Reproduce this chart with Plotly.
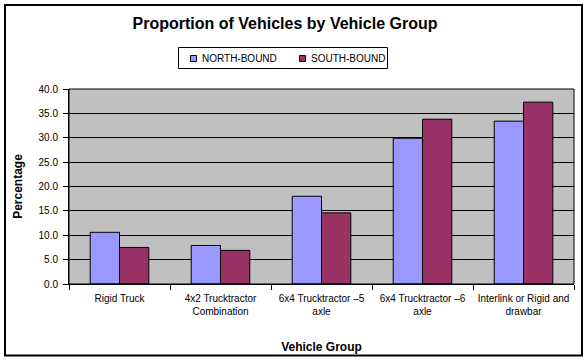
import plotly.graph_objects as go

categories = ["Rigid Truck", "4x2 Trucktractor<br>Combination", "6x4 Trucktractor –5<br>axle",
              "6x4 Trucktractor –6<br>axle", "Interlink or Rigid and<br>drawbar"]
north_bound = [10.6, 7.9, 18.0, 29.9, 33.4]
south_bound = [7.5, 6.9, 14.6, 33.8, 37.3]
series_names = ["NORTH-BOUND", "SOUTH-BOUND"]
series_colors = ["#9999FF", "#993366"]
y_ticks = [0, 5, 10, 15, 20, 25, 30, 35, 40]

W, H = 587, 361
L, R, T, B = 69, 13, 89, 77
pw, ph = W - L - R, H - T - B

def px(x):
    return (x - L) / pw

def py(y):
    return (H - B - y) / ph

font = "Liberation Sans, Arial, sans-serif"

fig = go.Figure()
for name, vals, col in zip(series_names, [north_bound, south_bound], series_colors):
    fig.add_bar(x=categories, y=vals, name=name, showlegend=False,
                marker=dict(color=col, line=dict(color="black", width=1)))

fig.update_layout(
    width=W, height=H,
    margin=dict(l=L, r=R, t=T, b=B, pad=0, autoexpand=False),
    paper_bgcolor="white", plot_bgcolor="#C0C0C0",
    barmode="group", bargap=0.42, bargroupgap=0,
    font=dict(family=font, color="black"),
    title=dict(text="<b>Proportion of Vehicles by Vehicle Group</b>", x=285 / W, xanchor="center",
               y=1 - 23 / H, yanchor="middle",
               font=dict(family=font, size=16, color="black")),
    showlegend=False,
)

fig.update_xaxes(showline=True, linecolor="black", linewidth=1, mirror=False, automargin=False,
                 ticks="outside", ticklen=5, tickcolor="black", tickson="boundaries",
                 ticklabelstandoff=5,
                 tickfont=dict(family=font, size=10), showgrid=False,
                 title=dict(text="<b>Vehicle Group</b>", font=dict(family=font, size=12), standoff=26))
fig.update_yaxes(range=[0, 40], tickvals=y_ticks, tickformat=".1f", automargin=False,
                 showline=True, linecolor="black", linewidth=1,
                 ticks="outside", ticklen=5, tickcolor="black", ticklabelstandoff=3,
                 showgrid=True, gridcolor="black", gridwidth=1,
                 tickfont=dict(family=font, size=10),
                 title=dict(text="<b>Percentage</b>", font=dict(family=font, size=12), standoff=13),
                 zeroline=False)

# plot-area border and outer chart frame
fig.add_shape(type="rect", xref="paper", yref="paper", x0=0, x1=1, y0=0, y1=1,
              line=dict(color="black", width=1), layer="above")
fig.add_shape(type="rect", xref="paper", yref="paper",
              x0=px(5), x1=px(582), y0=py(355.5), y1=py(5),
              line=dict(color="black", width=2))

# legend box (drawn manually to match the small Excel-style legend)
fig.add_shape(type="rect", xref="paper", yref="paper",
              x0=px(178.5), x1=px(387.5), y0=py(68.5), y1=py(47.5),
              line=dict(color="black", width=1), fillcolor="white")
for i, (name, col) in enumerate(zip(series_names, series_colors)):
    sx = 190 + i * 109
    fig.add_shape(type="rect", xref="paper", yref="paper",
                  x0=px(sx + 0.5), x1=px(sx + 6.5), y0=py(61.5), y1=py(55.5),
                  line=dict(color="black", width=1), fillcolor=col)
    fig.add_annotation(text=name, xref="paper", yref="paper", x=px(sx + 10), y=py(58.5),
                       xanchor="left", yanchor="middle", showarrow=False,
                       font=dict(family=font, size=10, color="black"))

fig.write_html("out.html", config={"displayModeBar": False},
               post_script="document.body.style.margin='0';document.body.style.overflow='hidden';")
